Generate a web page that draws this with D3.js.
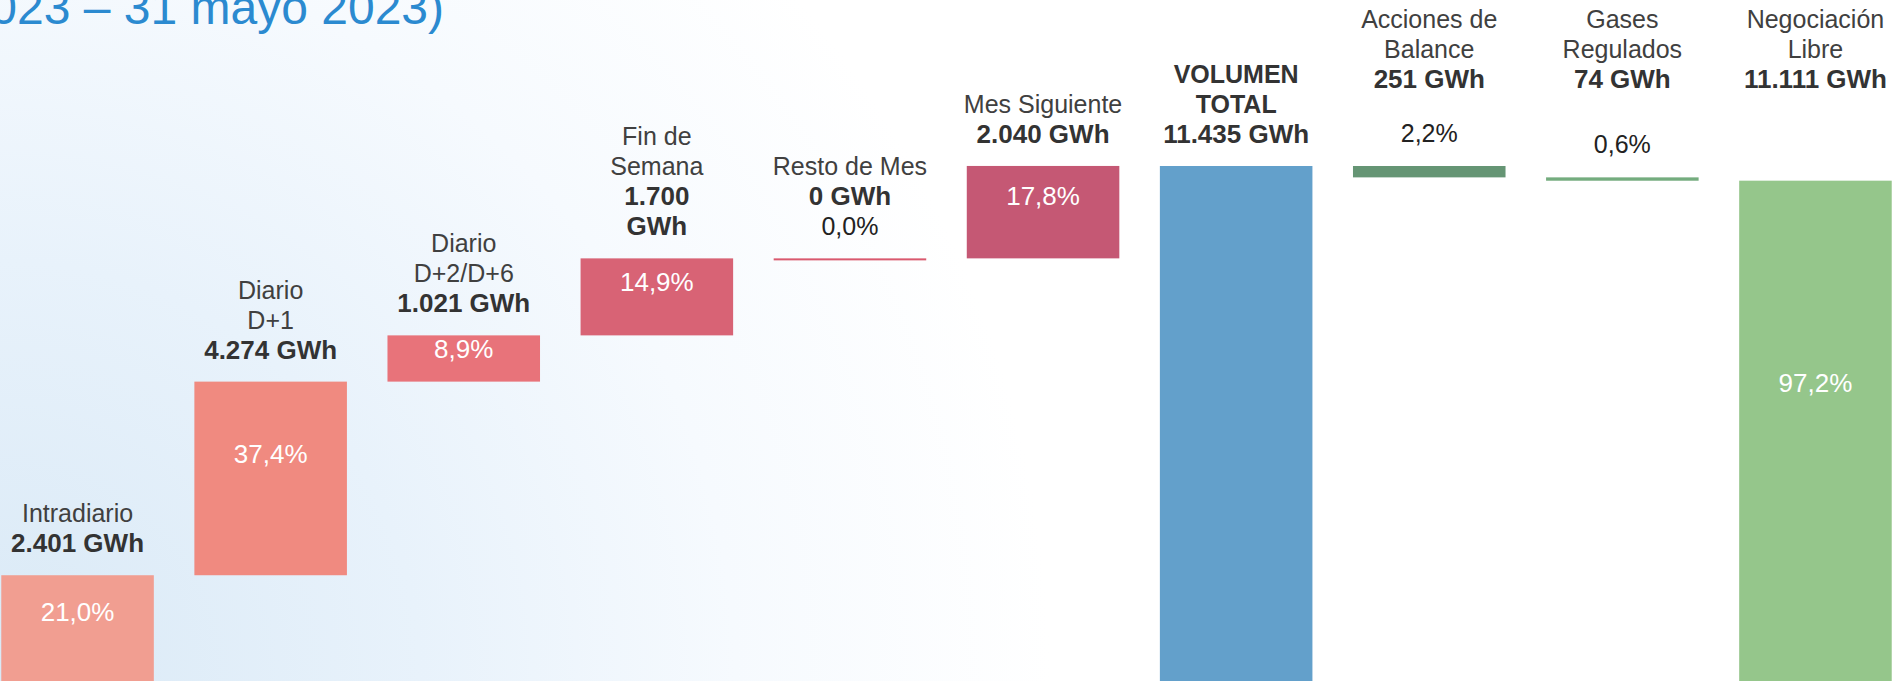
<!DOCTYPE html>
<html>
<head>
<meta charset="utf-8">
<script src="https://cdn.jsdelivr.net/npm/d3@7"></script>
<style>
  html, body { margin: 0; padding: 0; overflow: hidden; background: #fff; }
  svg { display: block; font-family: 'Liberation Sans', Arial, sans-serif; }
</style>
</head>
<body>
<svg id="chart"></svg>
<script>
/* eslint-disable no-undef */

const title = '(1 mayo 2023 – 31 mayo 2023)'

const categories = ['Intradiario', 'Diario D+1', 'Diario D+2/D+6', 'Fin de Semana', 'Resto de Mes',
  'Mes Siguiente', 'VOLUMEN TOTAL', 'Acciones de Balance', 'Gases Regulados', 'Negociación Libre']
const nameLines = [['Intradiario'], ['Diario', 'D+1'], ['Diario', 'D+2/D+6'], ['Fin de', 'Semana'],
  ['Resto de Mes'], ['Mes Siguiente'], ['VOLUMEN', 'TOTAL'], ['Acciones de', 'Balance'],
  ['Gases', 'Regulados'], ['Negociación', 'Libre']]
// GWh
const volumes = [2401, 4274, 1021, 1700, 0, 2040, 11435, 251, 74, 11111]
// % of total
const shares = [21.0, 37.4, 8.9, 14.9, 0.0, 17.8, null, 2.2, 0.6, 97.2]
const steps = ['up', 'up', 'up', 'up', 'up', 'up', 'total', 'down', 'down', 'total']
const wrapValue = ['Fin de Semana']

const palette = ['#f19e91', '#f08a80', '#e8737a', '#d86375', '#d9596e', '#c55874',
  '#63a0cb', '#659574', '#74ac7e', '#95c68b']

const width = 1893
const height = 681

const es = d3.formatLocale({ decimal: ',', thousands: '.', grouping: [3], currency: ['', ' €'] })
const fmtGWh = es.format(',.0f')
const fmtPct = es.format('.1f')

let run = 0
const bars = categories.map((c, i) => {
  const v = volumes[i]
  let lo, hi
  if (steps[i] === 'up') { lo = run; hi = run + v; run = hi }
  else if (steps[i] === 'total') { lo = 0; hi = v; run = v }
  else { hi = run; lo = run - v; run = lo }
  return { c, i, v, lo, hi, share: shares[i] }
})

const x = d3.scaleBand()
  .domain(categories)
  .range([-19, 1912])
  .paddingInner(0.21)
  .paddingOuter(0.105)

const y = d3.scaleLinear()
  .domain([0, d3.max(volumes)])
  .range([684, 166])

const svg = d3.select('#chart')
  .attr('width', width)
  .attr('height', height)

// soft blue wash from the bottom-left corner
const defs = svg.append('defs')
const grad = defs.append('radialGradient')
  .attr('id', 'bg')
  .attr('gradientUnits', 'userSpaceOnUse')
  .attr('cx', 0).attr('cy', height).attr('r', 1050)
grad.append('stop').attr('offset', 0).attr('stop-color', '#d9e9f6')
grad.append('stop').attr('offset', 0.4).attr('stop-color', '#e8f2fb')
grad.append('stop').attr('offset', 0.7).attr('stop-color', '#f6fafe')
grad.append('stop').attr('offset', 1).attr('stop-color', '#ffffff')

svg.append('rect')
  .attr('width', width)
  .attr('height', height)
  .attr('fill', 'url(#bg)')

svg.append('text')
  .attr('x', 444)
  .attr('y', 24)
  .attr('text-anchor', 'end')
  .attr('font-size', 48)
  .attr('fill', '#2b8ad0')
  .text(title)

svg.append('g')
  .selectAll('rect')
  .data(bars)
  .join('rect')
  .attr('x', d => x(d.c))
  .attr('width', x.bandwidth())
  .attr('y', d => y(d.hi))
  .attr('height', d => Math.max(2, y(d.lo) - y(d.hi)))
  .attr('fill', d => palette[d.i])

const totalIdx = steps.indexOf('total')
const lineH = 30

const labels = svg.append('g').attr('text-anchor', 'middle')

bars.forEach(d => {
  const cx = x(d.c) + x.bandwidth() / 2
  const top = y(d.hi)
  const h = y(d.lo) - y(d.hi)
  const inside = d.share != null && h > 30
  const isTotal = d.i === totalIdx

  const lines = nameLines[d.i].map(t => ({ t, bold: isTotal, size: 25 }))
  const num = fmtGWh(d.v)
  if (wrapValue.includes(d.c)) {
    lines.push({ t: num, bold: true, size: 26 }, { t: 'GWh', bold: true, size: 26 })
  } else {
    lines.push({ t: num + ' GWh', bold: true, size: 26 })
  }

  const afterTotal = d.i > totalIdx
  let pctOut = null
  if (d.share != null && !inside) {
    pctOut = { t: fmtPct(d.share) + '%', bold: false, size: 25, fill: '#222' }
    if (!afterTotal) lines.push(pctOut)
  }

  let first
  if (afterTotal) first = 28
  else first = top - 23 - (lines.length - 1) * lineH

  lines.forEach((l, k) => {
    labels.append('text')
      .attr('x', cx)
      .attr('y', first + k * lineH)
      .attr('font-size', l.size)
      .attr('font-weight', l.bold ? 'bold' : 'normal')
      .attr('fill', l.fill || (l.bold ? '#333' : '#404040'))
      .text(l.t)
  })

  if (pctOut && afterTotal) {
    labels.append('text')
      .attr('x', cx)
      .attr('y', top - 24)
      .attr('font-size', pctOut.size)
      .attr('fill', pctOut.fill)
      .text(pctOut.t)
  }

  if (inside) {
    labels.append('text')
      .attr('x', cx)
      .attr('y', top + Math.max(23, 0.42 * h))
      .attr('font-size', 26)
      .attr('fill', '#fff')
      .text(fmtPct(d.share) + '%')
  }
})
</script>
</body>
</html>
